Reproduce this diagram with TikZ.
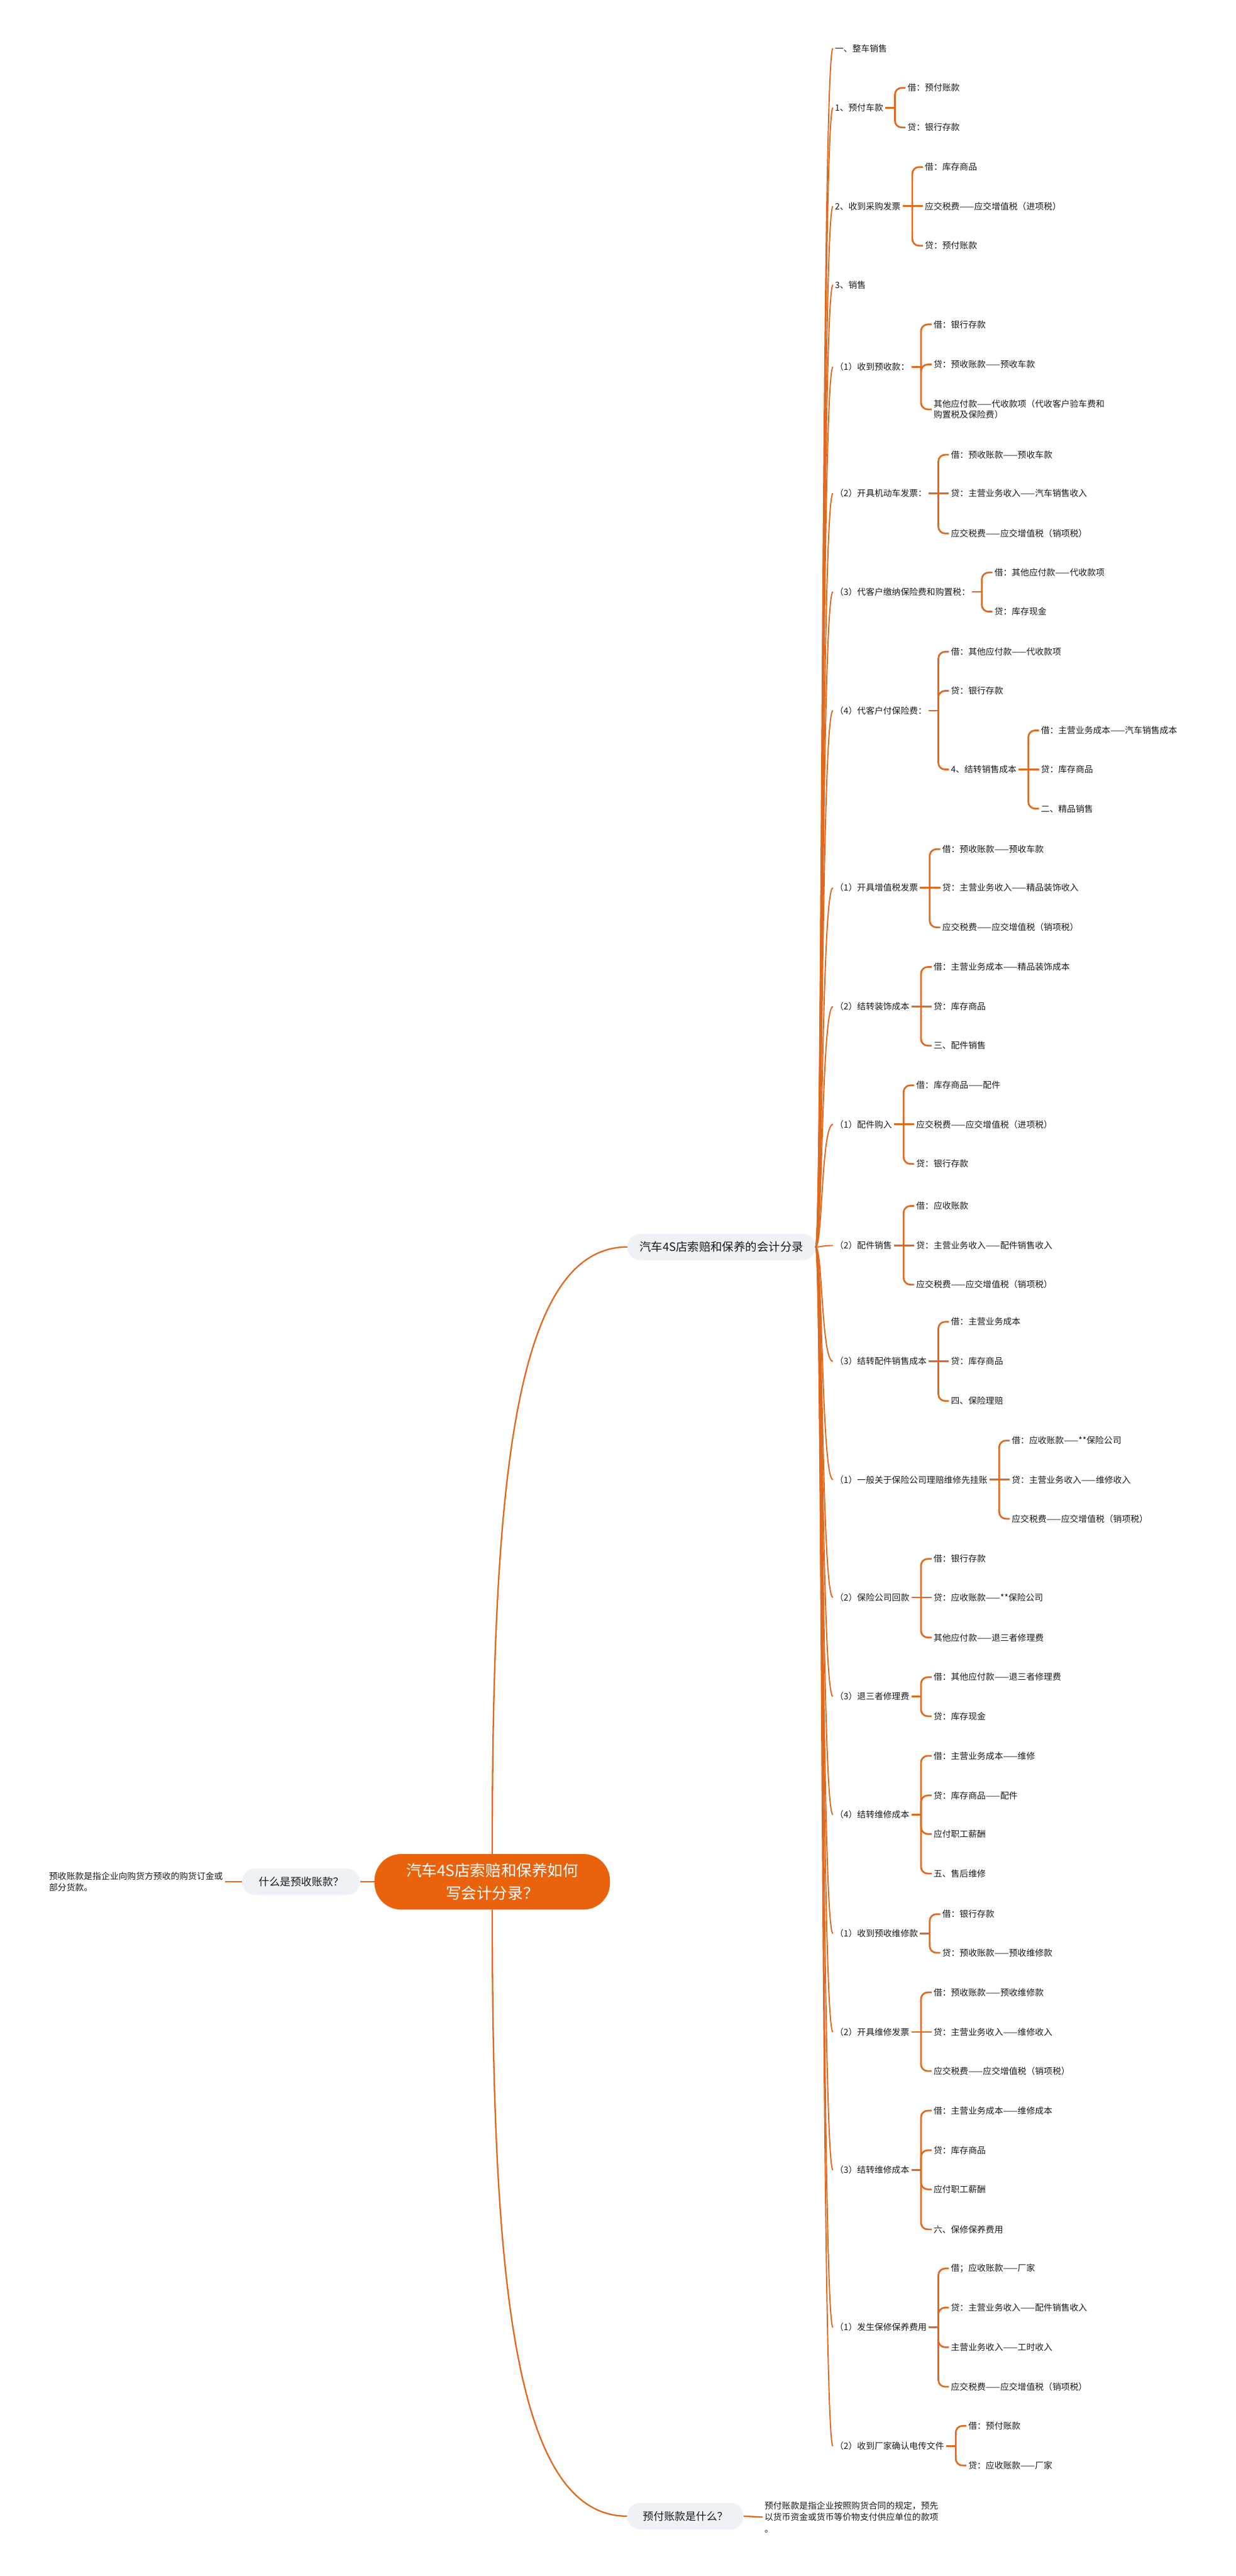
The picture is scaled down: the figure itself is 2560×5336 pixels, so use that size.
\documentclass[tikz,border=0pt]{standalone}
\usepackage{fontspec}
\setmainfont{Noto Sans CJK SC}
\usetikzlibrary{calc}
\definecolor{ln}{RGB}{226,104,30}
\definecolor{rootc}{RGB}{234,98,12}
\definecolor{lite}{RGB}{238,241,245}
\definecolor{txt}{RGB}{25,25,25}
\newcommand\mytick[1]{\draw[brk] (#1.east) -- ++(20pt,0pt) coordinate (#1b);}
\newcommand\mykid[4]{%
  \path let \p1=(#1b) in node[lt] (#2) at (\x1+22pt,-#3pt) {#4};
  \draw[brk,rounded corners=14pt] (#1b) |- (#2.west);}
\newcommand\mymid[4]{%
  \path let \p1=(#1b) in node[lt] (#2) at (\x1+22pt,-#3pt) {#4};
  \draw[brk] (#1b) -- (#2.west);}
\begin{document}
\begin{tikzpicture}[x=1pt,y=1pt,
  lt/.style={anchor=west,inner sep=4pt,text=txt,font=\fontsize{18}{23}\selectfont},
  desc/.style={text=txt,font=\fontsize{18}{24}\selectfont,align=left,inner sep=4pt},
  subnode/.style={fill=lite,rounded corners=27pt,minimum height=55pt,inner sep=0pt,text=txt,font=\fontsize{22}{26}\selectfont},
  rootnode/.style={fill=rootc,rounded corners=55pt,minimum width=488pt,minimum height=115pt,text=white,font=\fontsize{32}{46}\selectfont,align=center},
  brk/.style={draw=ln,line width=3.5pt},
  cur/.style={draw=ln,line width=2.5pt},
  rootln/.style={draw=ln,line width=3pt}]
\fill[white] (0,0) rectangle (2560,-5336);
\useasboundingbox (0,0) rectangle (2560,-5336);

% central and first-level nodes
\node[rootnode] (root) at (1020,-3898) {汽车4S店索赔和保养如何\\写会计分录？};
\node[subnode,minimum width=244pt] (q1) at (624,-3898) {什么是预收账款？};
\node[desc,anchor=east] (d1) at (466,-3898) {预收账款是指企业向购货方预收的购货订金或\\部分货款。};
\node[subnode,minimum width=241pt] (q2) at (1420,-5212) {预付账款是什么？};
\node[desc,anchor=west] (d2) at (1580,-5214) {预付账款是指企业按照购货合同的规定，预先\\以货币资金或货币等价物支付供应单位的款项\\。};
\node[subnode,minimum width=390pt,font=\fontsize{24}{28}\selectfont] (m) at (1495,-2583) {汽车4S店索赔和保养的会计分录};

\draw[rootln] (root.west) -- (q1.east);
\draw[rootln] (q1.west) -- (d1.east);
\draw[rootln] (root.north) .. controls (1020,-3100) and (1060,-2583) .. (m.west);
\draw[rootln] (root.south) .. controls (1020,-4700) and (1060,-5212) .. (q2.west);
\draw[rootln] (q2.east) -- (d2.west);

% second level
\node[lt] (a1) at (1726,-100) {一、整车销售};
\node[lt] (a2) at (1726,-223) {1、预付车款};
\node[lt] (a3) at (1726,-427) {2、收到采购发票};
\node[lt] (a4) at (1726,-590) {3、销售};
\node[lt] (a5) at (1726,-760) {（1）收到预收款：};
\node[lt] (a6) at (1726,-1022) {（2）开具机动车发票：};
\node[lt] (a7) at (1726,-1226) {（3）代客户缴纳保险费和购置税：};
\node[lt] (a8) at (1726,-1472) {（4）代客户付保险费：};
\node[lt] (a9) at (1726,-1839) {（1）开具增值税发票};
\node[lt] (a10) at (1726,-2085) {（2）结转装饰成本};
\node[lt] (a11) at (1726,-2329) {（1）配件购入};
\node[lt] (a12) at (1726,-2580) {（2）配件销售};
\node[lt] (a13) at (1726,-2820) {（3）结转配件销售成本};
\node[lt] (a14) at (1726,-3065) {（1）一般关于保险公司理赔维修先挂账};
\node[lt] (a15) at (1726,-3309) {（2）保险公司回款};
\node[lt] (a16) at (1726,-3514) {（3）退三者修理费};
\node[lt] (a17) at (1726,-3759) {（4）结转维修成本};
\node[lt] (a18) at (1726,-4005) {（1）收到预收维修款};
\node[lt] (a19) at (1726,-4209) {（2）开具维修发票};
\node[lt] (a20) at (1726,-4495) {（3）结转维修成本};
\node[lt] (a21) at (1726,-4821) {（1）发生保修保养费用};
\node[lt] (a22) at (1726,-5067) {（2）收到厂家确认电传文件};

\foreach \n in {a1,a2,a3,a4,a5,a6,a7,a8,a9,a10,a11,a12,a13,a14,a15,a16,a17,a18,a19,a20,a21,a22}
  \draw[cur] (m.east) .. controls +(14,0) and +(-24,0) .. (\n.west);

% third level
\mytick{a2}
\mykid{a2}{a2c1}{182}{借：预付账款}
\mykid{a2}{a2c2}{264}{贷：银行存款}

\mytick{a3}
\mykid{a3}{a3c1}{346}{借：库存商品}
\mymid{a3}{a3c2}{427}{应交税费——应交增值税（进项税）}
\mykid{a3}{a3c3}{509}{贷：预付账款}

\mytick{a5}
\mykid{a5}{a5c1}{672}{借：银行存款}
\mykid{a5}{a5c2}{755}{贷：预收账款——预收车款}
\path let \p1=(a5b) in node[lt,align=left,font=\fontsize{18}{22}\selectfont] (a5c3) at (\x1+22pt,-848pt) {其他应付款——代收款项（代收客户验车费和\\购置税及保险费）};
\draw[brk,rounded corners=14pt] (a5b) |- (a5c3.west);

\mytick{a6}
\mykid{a6}{a6c1}{942}{借：预收账款——预收车款}
\mymid{a6}{a6c2}{1022}{贷：主营业务收入——汽车销售收入}
\mykid{a6}{a6c3}{1105}{应交税费——应交增值税（销项税）}

\mytick{a7}
\mykid{a7}{a7c1}{1186}{借：其他应付款——代收款项}
\mykid{a7}{a7c2}{1267}{贷：库存现金}

\mytick{a8}
\mykid{a8}{a8c1}{1350}{借：其他应付款——代收款项}
\mykid{a8}{a8c2}{1431}{贷：银行存款}
\mykid{a8}{b84}{1594}{4、结转销售成本}
\mytick{b84}
\mykid{b84}{b84c1}{1513}{借：主营业务成本——汽车销售成本}
\mymid{b84}{b84c2}{1594}{贷：库存商品}
\mykid{b84}{b84c3}{1675}{二、精品销售}

\mytick{a9}
\mykid{a9}{a9c1}{1759}{借：预收账款——预收车款}
\mymid{a9}{a9c2}{1839}{贷：主营业务收入——精品装饰收入}
\mykid{a9}{a9c3}{1921}{应交税费——应交增值税（销项税）}

\mytick{a10}
\mykid{a10}{a10c1}{2003}{借：主营业务成本——精品装饰成本}
\mymid{a10}{a10c2}{2085}{贷：库存商品}
\mykid{a10}{a10c3}{2166}{三、配件销售}

\mytick{a11}
\mykid{a11}{a11c1}{2248}{借：库存商品——配件}
\mymid{a11}{a11c2}{2329}{应交税费——应交增值税（进项税）}
\mykid{a11}{a11c3}{2411}{贷：银行存款}

\mytick{a12}
\mykid{a12}{a12c1}{2498}{借：应收账款}
\mymid{a12}{a12c2}{2580}{贷：主营业务收入——配件销售收入}
\mykid{a12}{a12c3}{2661}{应交税费——应交增值税（销项税）}

\mytick{a13}
\mykid{a13}{a13c1}{2738}{借：主营业务成本}
\mymid{a13}{a13c2}{2820}{贷：库存商品}
\mykid{a13}{a13c3}{2902}{四、保险理赔}

\mytick{a14}
\mykid{a14}{a14c1}{2984}{借：应收账款——**保险公司}
\mymid{a14}{a14c2}{3065}{贷：主营业务收入——维修收入}
\mykid{a14}{a14c3}{3146}{应交税费——应交增值税（销项税）}

\mytick{a15}
\mykid{a15}{a15c1}{3229}{借：银行存款}
\mymid{a15}{a15c2}{3309}{贷：应收账款——**保险公司}
\mykid{a15}{a15c3}{3392}{其他应付款——退三者修理费}

\mytick{a16}
\mykid{a16}{a16c1}{3474}{借：其他应付款——退三者修理费}
\mykid{a16}{a16c2}{3555}{贷：库存现金}

\mytick{a17}
\mykid{a17}{a17c1}{3637}{借：主营业务成本——维修}
\mykid{a17}{a17c2}{3719}{贷：库存商品——配件}
\mykid{a17}{a17c3}{3799}{应付职工薪酬}
\mykid{a17}{a17c4}{3881}{五、售后维修}

\mytick{a18}
\mykid{a18}{a18c1}{3965}{借：银行存款}
\mykid{a18}{a18c2}{4045}{贷：预收账款——预收维修款}

\mytick{a19}
\mykid{a19}{a19c1}{4127}{借：预收账款——预收维修款}
\mymid{a19}{a19c2}{4209}{贷：主营业务收入——维修收入}
\mykid{a19}{a19c3}{4290}{应交税费——应交增值税（销项税）}

\mytick{a20}
\mykid{a20}{a20c1}{4372}{借：主营业务成本——维修成本}
\mykid{a20}{a20c2}{4454}{贷：库存商品}
\mykid{a20}{a20c3}{4535}{应付职工薪酬}
\mykid{a20}{a20c4}{4618}{六、保修保养费用}

\mytick{a21}
\mykid{a21}{a21c1}{4699}{借；应收账款——厂家}
\mykid{a21}{a21c2}{4780}{贷：主营业务收入——配件销售收入}
\mykid{a21}{a21c3}{4862}{主营业务收入——工时收入}
\mykid{a21}{a21c4}{4944}{应交税费——应交增值税（销项税）}

\mytick{a22}
\mykid{a22}{a22c1}{5025}{借：预付账款}
\mykid{a22}{a22c2}{5107}{贷：应收账款——厂家}
\end{tikzpicture}
\end{document}
